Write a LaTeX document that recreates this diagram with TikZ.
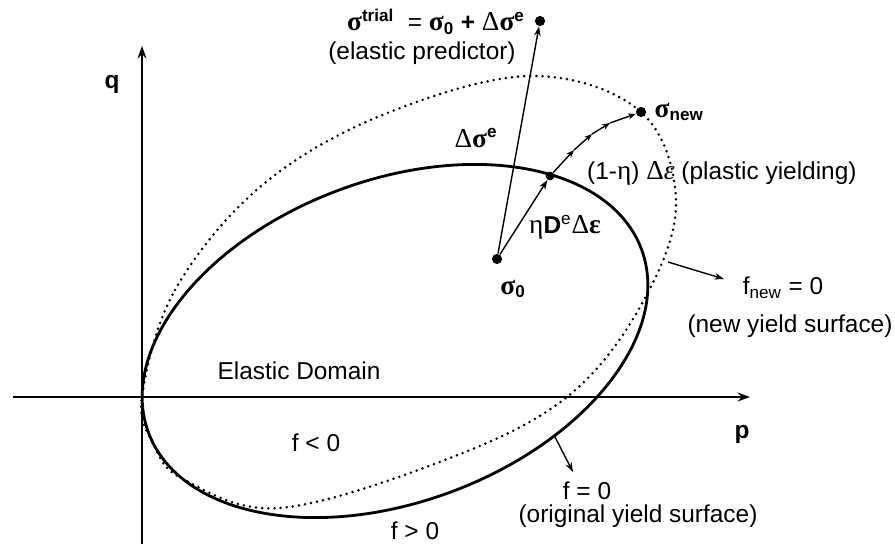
\documentclass[tikz,border=0pt]{standalone}
\usepackage{fontspec}
\setmainfont{Liberation Sans}
\newfontfamily\greekfont[Scale=1.12]{Liberation Serif}
\usetikzlibrary{arrows.meta,positioning}

\newcommand{\sig}{{\greekfont\bfseries σ}}
\newcommand{\Dl}{{\greekfont Δ}}
\newcommand{\et}{{\greekfont η}}
\newcommand{\eps}{{\greekfont\itshape ε}}

\begin{document}
\begin{tikzpicture}[
    x=0.02cm, y=-0.02cm,
    font=\fontsize{13.9}{16.5}\selectfont,
    axis/.style={line width=1.7pt, -{Stealth[length=7pt,width=5pt]}},
    oldsurf/.style={line width=1.6pt},
    newsurf/.style={line width=1.6pt, line cap=round, dash pattern=on 0pt off 3.5pt},
    vec/.style={line width=0.8pt, -{Stealth[length=5.5pt,width=3.8pt]}},
    plast/.style={line width=0.8pt, -{Stealth[length=4.5pt,width=3.4pt]}},
    state/.style={circle, fill, inner sep=0pt, minimum size=#1},
    state/.default=5.8pt,
    lbl/.style={inner sep=0.5pt},
]
\useasboundingbox (0,0) rectangle (895,544);

% axes
\coordinate (O) at (142,397);
\coordinate (pend) at (750,397);
\coordinate (qend) at (142,46);
\draw[axis] (13,397) -- (pend);
\draw[axis] (142,544) -- (qend);
\node[lbl] (q) at (112,84) {\textbf{q}};
\node[lbl] (p) at (742,434) {\textbf{p}};

% original yield surface f = 0
\draw[oldsurf, rotate around={20.4:(395,341)}] (395,341) ellipse [x radius=263, y radius=161];

% new yield surface f_new = 0
\draw[newsurf] plot[smooth cycle, tension=0.6] coordinates {
    (142,397) (175,290) (260,187) (380,116) (530,76) (641,112) (676,205)
    (640,307) (567,397) (450,458) (280,508) (183,479) (154,445)};

% stress states
\node[state] (s0) at (497,259) {};
\node[state] (trial) at (540,21) {};
\node[state=5pt] (yld) at (550,176) {};
\node[state] (new) at (641,112) {};
\coordinate (p1) at (574,150);
\coordinate (p2) at (592,134);
\coordinate (p3) at (610,123);

\draw[vec] (s0) -- (trial);
\draw[vec] (s0) -- (yld);
\foreach \a/\b in {yld/p1, p1/p2, p2/p3, p3/new}
    \draw[plast] (\a) -- (\b);

% labels
\node[lbl] (trialtxt) at (436,22)
    {\sig\textsuperscript{\textbf{trial}}\ \ = \sig\textsubscript{\textbf{0}} \textbf{+} \Dl\sig\textsuperscript{\textbf{e}}};
\node[lbl] (predtxt) at (422,53) {(elastic predictor)};
\node[lbl] (dse) at (476,138) {\Dl\sig\textsuperscript{\textbf{e}}};
\node[lbl, right=4pt of new] (newtxt) {\sig\textsubscript{\textbf{new}}};
\node[lbl] (s0txt) at (513,289) {\sig\textsubscript{\textbf{0}}};
\node[lbl] (etxt) at (565,227) {\et\textbf{D}\textsuperscript{e}\Dl{\greekfont\bfseries ε}};
\node[lbl, anchor=west] (plasttxt) at (586,173) {(1-\et) \Dl\eps\ (plastic yielding)};

\node[lbl] (dom) at (299,371) {Elastic Domain};
\node[lbl] (fin) at (316,443) {f < 0};
\node[lbl] (fout) at (415,531) {f > 0};

\coordinate (fn0) at (668,262);
\coordinate (fn1) at (724,279);
\draw[vec] (fn0) -- (fn1);
\node[lbl] (fnew) at (783,288) {f\textsubscript{new} = 0};
\node[lbl] (fnewtxt) at (790,326) {(new yield surface)};

\coordinate (f0) at (555,437);
\coordinate (f1) at (573,472);
\draw[vec] (f0) -- (f1);
\node[lbl] (fzero) at (587,491) {f = 0};
\node[lbl] (fzerotxt) at (638,516) {(original yield surface)};
\end{tikzpicture}
\end{document}
